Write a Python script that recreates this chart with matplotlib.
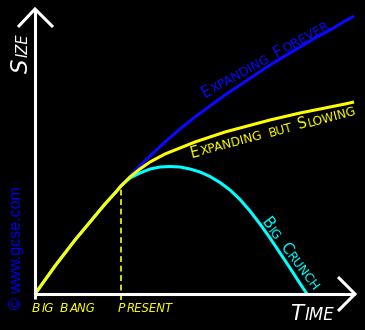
import numpy as np
import matplotlib
matplotlib.use("Agg")
import matplotlib.pyplot as plt
from itertools import groupby
from matplotlib.font_manager import FontProperties
from matplotlib.transforms import IdentityTransform

W, H = 365, 330
X0, Y0 = 35, 294   # graph origin in image pixels
SCALE = 10         # pixels per unit

# the shared history, big bang -> present
past_time = [0, 1, 2, 3, 4, 5, 6, 7, 8, 8.6]
past_size = [0, 1.4, 2.8, 4.1, 5.4, 6.6, 7.8, 9.0, 10.1, 10.8]

# the three futures
forever_time = [10, 11.5, 13, 14.5, 16, 17.5, 19, 20.5, 22, 23.5, 25, 26.5, 28, 29.5, 31, 31.9]
forever_size = [12.3, 13.8, 15.2, 16.5, 17.7, 18.8, 19.9, 20.9, 21.9, 22.9, 23.8, 24.7, 25.6, 26.4, 27.3, 27.8]

slowing_time = [9.5, 10.5, 11.5, 13, 14.5, 16, 17.5, 19, 20.5, 22, 23.5, 25, 26.5, 28, 29.5, 31, 31.9]
slowing_size = [11.7, 12.5, 13.2, 14.0, 14.6, 15.2, 15.7, 16.2, 16.6, 17.0, 17.4, 17.75, 18.1, 18.4, 18.7, 19.0, 19.2]

crunch_time = [9.5, 10.5, 11.5, 12.5, 13.5, 14.5, 15.5, 16.5, 17.5, 18.5, 19.5, 20.5, 21.5,
               22.5, 23.5, 24.5, 25.5, 26.5, 27.2]
crunch_size = [11.6, 12.1, 12.5, 12.7, 12.75, 12.7, 12.5, 12.2, 11.75, 11.15, 10.4, 9.45, 8.3,
               7.0, 5.6, 4.1, 2.6, 1.05, 0.0]

BLUE = "#0a0aff"
YELLOW = "#ffff00"
CYAN = "#00ffff"
FONT = "DejaVu Sans"


def px(x, y):
    # image pixel -> data units
    return (x - X0) / SCALE, (Y0 - y) / SCALE


fig = plt.figure(figsize=(W / 100, H / 100), dpi=100, facecolor="black")
ax = fig.add_axes([0, 0, 1, 1])
ax.axis("off")
ax.set_xlim(-X0 / SCALE, (W - X0) / SCALE)
ax.set_ylim(-(H - Y0) / SCALE, Y0 / SCALE)

# curves
lw = 2.2
for t, s, c in [(forever_time, forever_size, BLUE),
                (crunch_time, crunch_size, CYAN),
                (slowing_time, slowing_size, YELLOW)]:
    ax.plot(np.concatenate([past_time, t]), np.concatenate([past_size, s]),
            color=c, lw=lw, solid_capstyle="butt", solid_joinstyle="round")

# present marker
ax.plot([past_time[-1]] * 2, [-0.6, past_size[-1]], color=YELLOW, lw=1.2,
        dashes=(3.5, 2.2))

# axes with arrow heads
axis_kw = dict(color="white", lw=2.2, solid_joinstyle="miter", solid_capstyle="butt")
ax.plot(*zip(px(35, 299), px(35, 9)), **axis_kw)
ax.plot(*zip(px(18, 27), px(35, 9), px(53, 27)), **axis_kw)
ax.plot(*zip(px(35, 294), px(355, 294)), **axis_kw)
ax.plot(*zip(px(338, 277), px(355, 294), px(338, 311)), **axis_kw)

renderer = fig.canvas.get_renderer()


def caps(x, y, text, big, small, angle, color, style="normal"):
    # fake small caps along a baseline starting at image pixel (x, y)
    a = np.deg2rad(angle)
    ux, uy = np.cos(a), np.sin(a)
    X, Y = x, H - y
    for i, word in enumerate(text.split(" ")):
        if i:
            step = 0.42 * small * 100 / 72
            X += ux * step
            Y += uy * step
        for upper, chars in groupby(word, key=str.isupper):
            s = "".join(chars).upper()
            fp = FontProperties(family=FONT, size=big if upper else small, style=style)
            fig.text(X, Y, s, fontproperties=fp, color=color, rotation=angle,
                     rotation_mode="anchor", ha="left", va="baseline",
                     transform=IdentityTransform())
            w, h, d = renderer.get_text_width_height_descent(s, fp, ismath=False)
            step = w + 0.09 * small * 100 / 72
            X += ux * step
            Y += uy * step


caps(204, 98, "Expanding Forever", 10.8, 9.0, 29, BLUE)
caps(192, 158, "Expanding but Slowing", 10.5, 8.7, 15, YELLOW)
caps(260, 222, "Big Crunch", 10.8, 9.0, -52.6, CYAN)
caps(32, 312, "Big Bang", 8.8, 8.4, 0, YELLOW, "italic")
caps(118, 312, "Present", 8.8, 8.4, 0, YELLOW, "italic")
caps(290, 320, "Time", 15.5, 12, 0, "white", "italic")
caps(28, 73, "Size", 16.5, 10.5, 90, "white", "italic")

fig.text(16.5, H - 248, "\u00a9 www.gcse.com", rotation=90, ha="center", va="center",
         color="#0000ee", fontsize=11.5, family="Liberation Sans",
         transform=IdentityTransform())

fig.savefig("out.png", facecolor="black")
